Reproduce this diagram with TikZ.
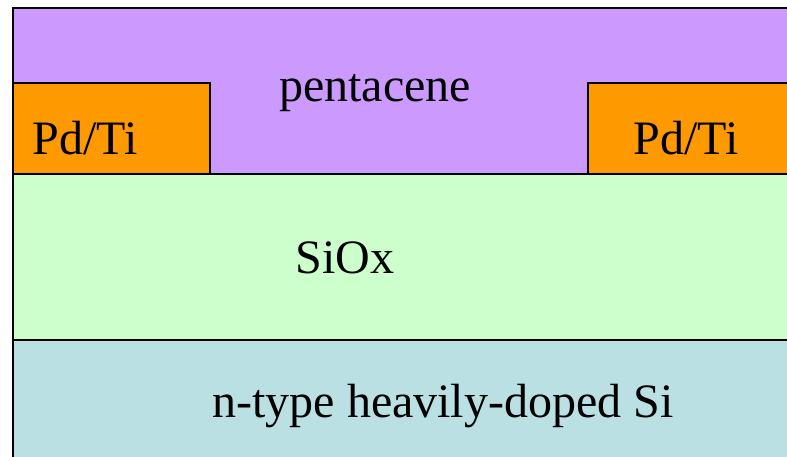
\documentclass[tikz,border=0pt]{standalone}
\usepackage{fontspec}
\setmainfont{Liberation Serif}
\definecolor{pentacenefill}{HTML}{CC99FF}
\definecolor{metalfill}{HTML}{FF9900}
\definecolor{oxidefill}{HTML}{CCFFCC}
\definecolor{siliconfill}{HTML}{BBE0E3}
\tikzset{
  layer/.style={draw=black, line width=1.6pt},
  label/.style={anchor=base, inner sep=0pt, font=\fontsize{48}{58}\selectfont, text=black}
}
\begin{document}
\begin{tikzpicture}[x=1pt,y=-1pt]
\useasboundingbox (0,0) rectangle (787,457);
\clip (0,0) rectangle (787,457);
% substrate, oxide, semiconductor, contacts
\path[layer, fill=siliconfill] (13,340) rectangle (800,470);
\path[layer, fill=oxidefill] (13,174) rectangle (800,340);
\path[layer, fill=pentacenefill] (13,8) rectangle (800,174);
\path[layer, fill=metalfill] (13,83) rectangle (210,174);
\path[layer, fill=metalfill] (588,83) rectangle (800,174);
% layer labels
\node[label] (pent) at (375,102) {pentacene};
\node[label] (pdl) at (85,155) {Pd/Ti};
\node[label] (pdr) at (686,155) {Pd/Ti};
\node[label] (ox) at (345,273) {SiOx};
\node[label] (si) at (443,417) {n-type heavily-doped Si};
\end{tikzpicture}
\end{document}
